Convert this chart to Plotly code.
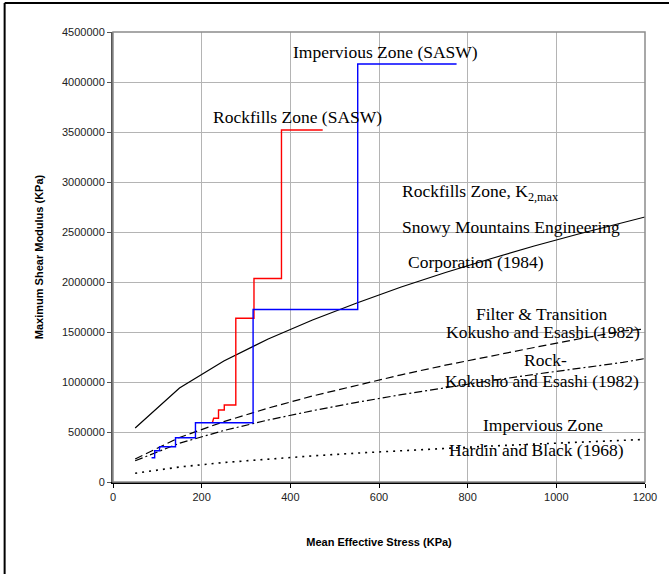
import plotly.graph_objects as go

# Mean effective stress (kPa) sampling for the empirical curves
stress = [50, 150, 250, 350, 450, 550, 650, 750, 850, 950, 1050, 1150, 1200]

# Rockfills zone, K2,max - Snowy Mountains Engineering Corporation (1984)
g_snowy = [540000, 940000, 1210000, 1430000, 1620000, 1790000, 1950000,
           2095000, 2230000, 2360000, 2480000, 2590000, 2650000]
# Filter & transition - Kokusho and Esashi (1982)
g_filter = [230000, 445000, 604000, 739000, 860000, 969000, 1072000,
            1168000, 1260000, 1345000, 1430000, 1510000, 1530000]
# Rock - Kokusho and Esashi (1982)
g_rock = [212000, 388000, 515000, 620000, 713000, 797000, 873000,
          944000, 1012000, 1076000, 1137000, 1196000, 1235000]
# Impervious zone - Hardin and Black (1968)
g_hardin = [87000, 150000, 195000, 230000, 261000, 289000, 314000,
            337000, 359000, 379000, 398000, 417000, 426000]

# SASW profiles (stepped)
rock_sasw_p = [224, 227, 238, 238, 251, 251, 277, 277, 318, 318, 380, 380, 473]
rock_sasw_g = [590000, 637000, 637000, 720000, 720000, 770000, 770000,
               1637000, 1637000, 2035000, 2035000, 3520000, 3520000]

imp_sasw_p = [87, 94, 94, 105, 105, 141, 141, 186, 186, 316, 316, 552, 552, 775]
imp_sasw_g = [243000, 243000, 313000, 313000, 353000, 353000, 443000, 443000,
              593000, 593000, 1725000, 1725000, 4180000, 4180000]

x_ticks = [0, 200, 400, 600, 800, 1000, 1200]
y_ticks = [0, 500000, 1000000, 1500000, 2000000, 2500000, 3000000,
           3500000, 4000000, 4500000]

fig = go.Figure()

fig.add_trace(go.Scatter(x=stress, y=g_snowy, mode="lines",
                         line=dict(color="black", width=1.2)))
fig.add_trace(go.Scatter(x=stress, y=g_filter, mode="lines",
                         line=dict(color="black", width=1.2, dash="8px,4px")))
fig.add_trace(go.Scatter(x=stress, y=g_rock, mode="lines",
                         line=dict(color="black", width=1.2,
                                   dash="8px,3px,2px,3px")))
fig.add_trace(go.Scatter(x=stress, y=g_hardin, mode="lines",
                         line=dict(color="black", width=1.6, dash="2px,5px")))
fig.add_trace(go.Scatter(x=rock_sasw_p, y=rock_sasw_g, mode="lines",
                         line=dict(color="#ff0000", width=1.4)))
fig.add_trace(go.Scatter(x=imp_sasw_p, y=imp_sasw_g, mode="lines",
                         line=dict(color="#0000ff", width=1.4)))

serif = dict(family="Liberation Serif, Times New Roman, serif", size=17.5,
             color="black")

notes = [
    ("Impervious Zone (SASW)", 614, 4300000, "center"),
    ("Rockfills Zone (SASW)", 417, 3650000, "center"),
    ("Rockfills Zone, K<sub>2,max</sub>", 648, 2900000, "left"),
    ("Snowy Mountains Engineering", 648, 2550000, "left"),
    ("Corporation (1984)", 660, 2200000, "left"),
    ("Filter & Transition", 967, 1685000, "center"),
    ("Kokusho and Esashi (1982)", 969, 1505000, "center"),
    ("Rock-", 976, 1220000, "center"),
    ("Kokusho and Esashi (1982)", 967, 1010000, "center"),
    ("Impervious Zone", 971, 570000, "center"),
    ("Hardin and Black (1968)", 956, 320000, "center"),
]
for text, x, y, anchor in notes:
    fig.add_annotation(x=x, y=y, text=text, showarrow=False, xanchor=anchor,
                       yanchor="middle", font=serif)

# Plot-area frame (top/right) and outer chart frame (top/left)
fig.add_shape(type="rect", xref="paper", yref="paper", x0=0, y0=0, x1=1, y1=1,
              line=dict(color="#8c8c8c", width=1.5))
fig.add_shape(type="line", xref="paper", yref="paper",
              x0=-0.2037, y0=1.0644, x1=1.05, y1=1.0644,
              line=dict(color="black", width=2))
fig.add_shape(type="line", xref="paper", yref="paper",
              x0=-0.2037, y0=1.0644, x1=-0.2037, y1=-0.21,
              line=dict(color="black", width=2))

tick_font = dict(family="Arial, Liberation Sans, sans-serif", size=11,
                 color="#222222")
title_font = dict(family="Arial, Liberation Sans, sans-serif", size=11,
                  color="black")

fig.update_layout(
    width=669, height=574,
    margin=dict(l=113, r=21, t=32, b=92),
    paper_bgcolor="white", plot_bgcolor="white",
    showlegend=False,
    xaxis=dict(
        range=[0, 1200], tickvals=x_ticks, ticktext=[str(v) for v in x_ticks],
        showgrid=True, gridcolor="#b4b4b4", gridwidth=1,
        showline=True, linecolor="black", linewidth=1.5,
        ticks="outside", ticklen=4, tickcolor="black",
        tickfont=tick_font, zeroline=False,
        title=dict(text="<b>Mean Effective Stress (KPa)</b>",
                   font=title_font, standoff=36),
    ),
    yaxis=dict(
        range=[0, 4500000], tickvals=y_ticks,
        ticktext=[str(v) for v in y_ticks],
        showgrid=True, gridcolor="#b4b4b4", gridwidth=1,
        showline=True, linecolor="#555555", linewidth=2,
        ticks="outside", ticklen=4, tickcolor="#555555",
        tickfont=tick_font, zeroline=False,
        title=dict(text="<b>Maximum Shear Modulus (KPa)</b>",
                   font=title_font, standoff=16),
    ),
)

fig.write_html("out.html")
